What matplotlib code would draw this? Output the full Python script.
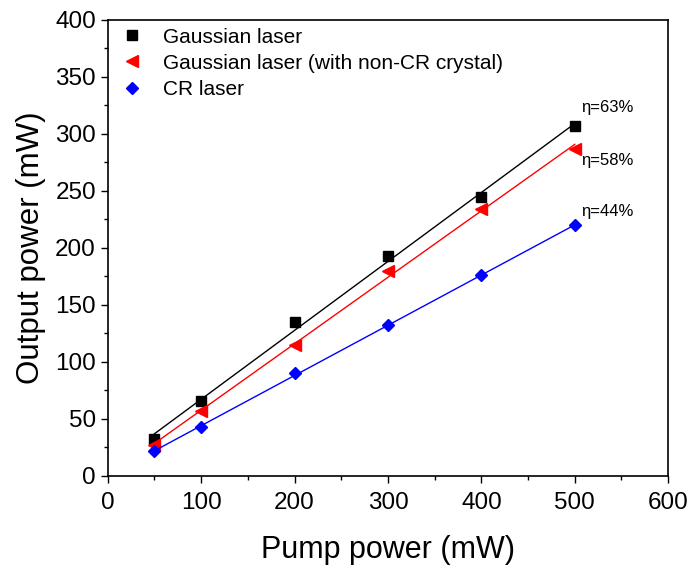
import matplotlib
matplotlib.use("Agg")
import matplotlib.pyplot as plt
from matplotlib.ticker import MultipleLocator
import numpy as np

plt.rcParams['font.family'] = ['Liberation Sans', 'DejaVu Sans']

# data
pump = np.array([50, 100, 200, 300, 400, 500])
gauss = np.array([32, 66, 135, 193, 245, 307])
gauss_noncr = np.array([27, 57, 115, 180, 234, 287])
cr = np.array([22, 43, 90, 132, 176, 220])

labels = ["Gaussian laser", "Gaussian laser (with non-CR crystal)", "CR laser"]
eta_text = ["\u03b7=63%", "\u03b7=58%", "\u03b7=44%"]
eta_pos = [(507, 323), (507, 277), (507, 232)]

fig = plt.figure(figsize=(6.91, 5.68), dpi=100)
ax = fig.add_axes([0.156, 0.162, 0.811, 0.803])

series = [(gauss, 'k', 's', 7), (gauss_noncr, 'red', '<', 8), (cr, 'blue', 'D', 6)]
for (y, c, m, ms), lab in zip(series, labels):
    ax.plot(pump, y, linestyle='none', marker=m, color=c, markersize=ms, label=lab)
    # linear fit
    k, b = np.polyfit(pump, y, 1)
    xs = np.array([pump[0], pump[-1]])
    ax.plot(xs, k * xs + b, color=c, lw=1.0)

for t, (x, y) in zip(eta_text, eta_pos):
    ax.text(x, y, t, fontsize=12, ha='left', va='center')

ax.set_xlim(0, 600)
ax.set_ylim(0, 400)
ax.xaxis.set_major_locator(MultipleLocator(100))
ax.xaxis.set_minor_locator(MultipleLocator(50))
ax.yaxis.set_major_locator(MultipleLocator(50))
ax.yaxis.set_minor_locator(MultipleLocator(25))
ax.tick_params(which='both', direction='out', top=False, right=False, labelsize=17.5)
ax.tick_params(which='major', length=5, width=1)
ax.tick_params(which='minor', length=3, width=1)
ax.tick_params(axis='x', pad=6.5)
for s in ax.spines.values():
    s.set_linewidth(1.2)

ax.set_xlabel("Pump power (mW)", fontsize=22, labelpad=15)
ax.set_ylabel("Output power (mW)", fontsize=22.5, labelpad=7)

leg = ax.legend(loc='upper left', frameon=False, fontsize=15, handletextpad=0.7,
                borderaxespad=0, borderpad=0, labelspacing=0.34, handlelength=1.5,
                bbox_to_anchor=(0.016, 0.983))

fig.savefig("out.png", dpi=100)
